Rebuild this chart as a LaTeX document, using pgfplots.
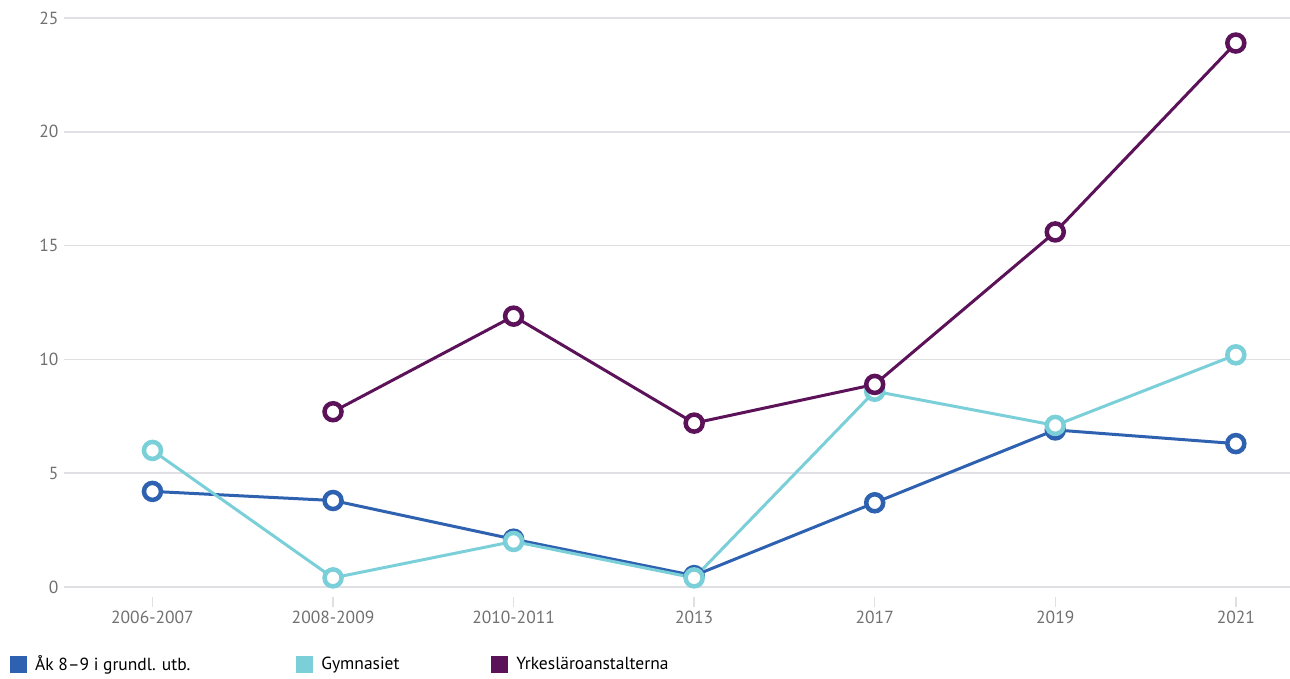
\documentclass[border=0pt]{standalone}
\usepackage{pgfplots}
\pgfplotsset{compat=1.18}
\usepackage{fontspec}
\setmainfont{PT Sans}
\definecolor{cBlue}{HTML}{2E62B0}
\definecolor{cCyan}{HTML}{7ACFD8}
\definecolor{cPurple}{HTML}{5C1259}
\definecolor{cGrid}{HTML}{DFDFE4}
\definecolor{cTick}{HTML}{707070}
\begin{document}
\begin{tikzpicture}
\useasboundingbox (0,0) rectangle (1290pt,678pt);
\begin{axis}[
    at={(64pt,81pt)}, anchor=south west,
    scale only axis, width=1226pt, height=579pt,
    xmin=-0.49, xmax=6.3,
    ymin=-0.44, ymax=25,
    xtick={0,...,6},
    xticklabels={2006-2007,2008-2009,2010-2011,2013,2017,2019,2021},
    ytick={0,5,...,25},
    xtick pos=lower,
    ymajorgrids, grid style={cGrid, line width=1.5pt},
    axis line style={draw=none},
    tick align=outside,
    x tick style={cGrid, line width=1.5pt},
    y tick style={draw=none},
    major tick length=10pt,
    ticklabel style={font=\fontsize{17.5}{20}\selectfont, text=cTick},
    xticklabel style={yshift=-1pt},
    yticklabel style={xshift=8pt},
    /pgf/number format/assume math mode=true,
    clip=false,
    every axis plot/.append style={line width=3pt, mark=*, mark size=8.5pt,
        mark options={fill=white, line width=4.5pt}},
    legend columns=3,
    legend image code/.code={\fill[#1, draw=none] (0pt,-8.5pt) rectangle (17pt,8.5pt);},
    legend style={at={(0,0)}, anchor=west, xshift=-54pt, yshift=-67pt,
        draw=none, inner sep=0pt, font=\fontsize{17.5}{20}\selectfont,
        /tikz/every odd column/.append style={column sep=6pt},
        /tikz/every even column/.append style={column sep=104pt}},
    legend cell align=left,
]
\addplot[cBlue] coordinates {(0,4.2) (1,3.8) (2,2.1) (3,0.5) (4,3.7) (5,6.9) (6,6.3)};
\addlegendentry{Åk 8–9 i grundl. utb.}
\addplot[cCyan] coordinates {(0,6.0) (1,0.4) (2,2.0) (3,0.4) (4,8.6) (5,7.1) (6,10.2)};
\addlegendentry{\makebox[64pt][l]{Gymnasiet}}
\addplot[cPurple] coordinates {(1,7.7) (2,11.9) (3,7.2) (4,8.9) (5,15.6) (6,23.9)};
\addlegendentry{Yrkesläroanstalterna}
\end{axis}
\end{tikzpicture}
\end{document}
